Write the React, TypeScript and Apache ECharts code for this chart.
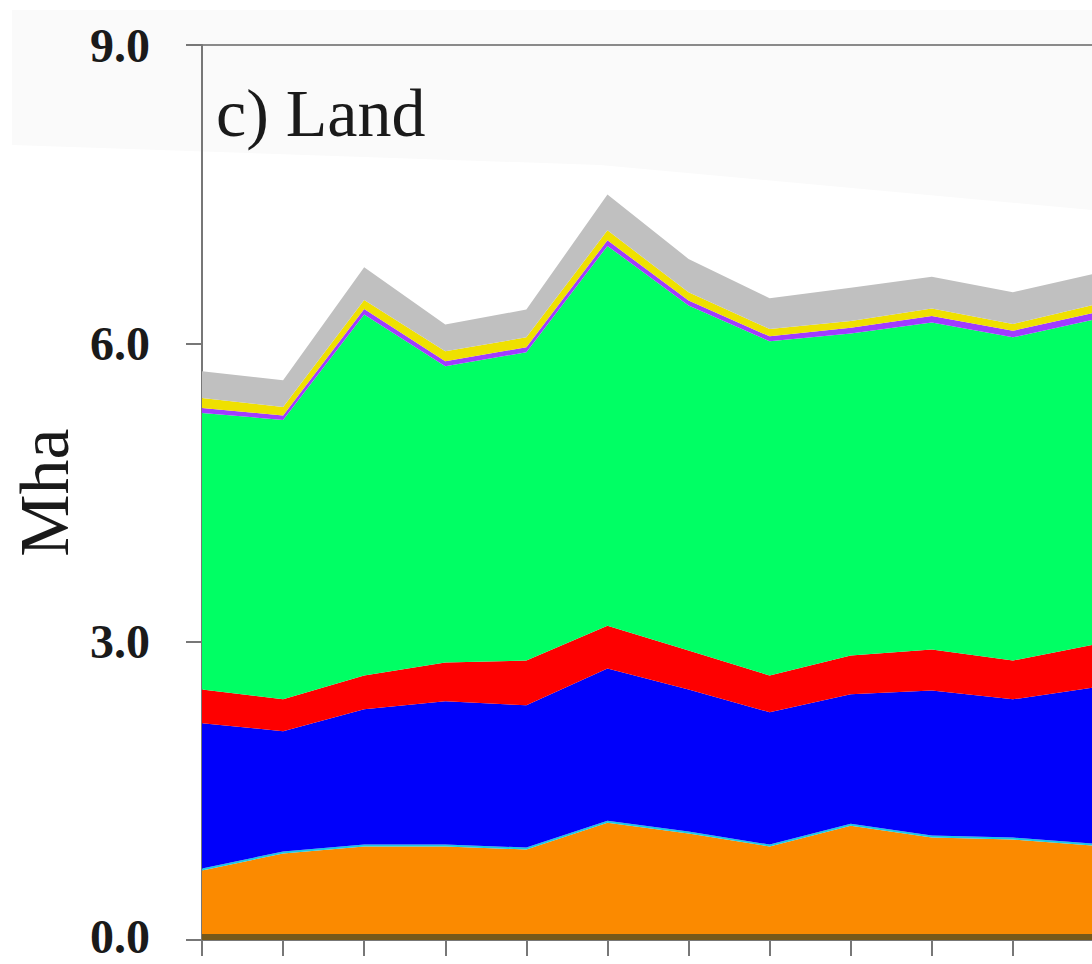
import React, { useEffect, useRef } from "react";
import * as echarts from "echarts";

// 12 time steps along the x axis (labels are cut off in the reference)
const categories = ["1", "2", "3", "4", "5", "6", "7", "8", "9", "10", "11", "12"];

// stacked layers, bottom to top (Mha)
const brownLayer = [0.06, 0.06, 0.06, 0.06, 0.06, 0.06, 0.06, 0.06, 0.06, 0.06, 0.06, 0.06];
const orangeLayer = [0.64, 0.81, 0.88, 0.88, 0.85, 1.12, 1.01, 0.88, 1.09, 0.97, 0.95, 0.89];
const cyanLayer = [0.02, 0.02, 0.02, 0.02, 0.02, 0.02, 0.02, 0.02, 0.02, 0.02, 0.02, 0.02];
const blueLayer = [1.46, 1.21, 1.36, 1.44, 1.43, 1.53, 1.43, 1.33, 1.3, 1.46, 1.39, 1.57];
const redLayer = [0.34, 0.32, 0.34, 0.39, 0.45, 0.43, 0.39, 0.37, 0.39, 0.41, 0.39, 0.43];
const greenLayer = [2.78, 2.81, 3.63, 2.98, 3.1, 3.82, 3.47, 3.36, 3.24, 3.29, 3.25, 3.27];
const purpleLayer = [0.05, 0.045, 0.055, 0.05, 0.05, 0.056, 0.05, 0.05, 0.057, 0.066, 0.066, 0.067];
const yellowLayer = [0.1, 0.085, 0.09, 0.1, 0.1, 0.1, 0.084, 0.074, 0.067, 0.074, 0.068, 0.081];
const grayLayer = [0.27, 0.27, 0.33, 0.27, 0.28, 0.36, 0.335, 0.31, 0.335, 0.32, 0.32, 0.31];

const layers = [
  { name: "Brown", data: brownLayer, color: "#76591a" },
  { name: "Orange", data: orangeLayer, color: "#fb8a00" },
  { name: "Cyan", data: cyanLayer, color: "#19c8e6" },
  { name: "Blue", data: blueLayer, color: "#0000fb" },
  { name: "Red", data: redLayer, color: "#fe0000" },
  { name: "Green", data: greenLayer, color: "#00ff64" },
  { name: "Purple", data: purpleLayer, color: "#a03cff" },
  { name: "Yellow", data: yellowLayer, color: "#efe000" },
  { name: "Gray", data: grayLayer, color: "#c0c0c0" },
];

const yMin = 0;
const yMax = 9;
const yInterval = 3;

export default function App() {
  const ref = useRef<HTMLDivElement>(null);

  useEffect(() => {
    if (!ref.current) return;
    const chart = echarts.init(ref.current, undefined, { renderer: "svg" });
    const serif = "'Liberation Serif', 'Times New Roman', serif";
    const labelStyle = {
      fontFamily: serif,
      fontSize: 48,
      fontWeight: "bold",
      color: "#1a1a1a",
    };
    chart.setOption({
      animation: false,
      backgroundColor: "transparent",
      title: {
        text: "c) Land",
        left: 211,
        top: 74,
        textStyle: {
          fontFamily: serif,
          fontSize: 68,
          fontWeight: "normal",
          color: "#1a1a1a",
        },
      },
      graphic: [
        {
          type: "polygon",
          z: -10,
          silent: true,
          shape: {
            points: [
              [12, 10],
              [1300, 10],
              [1300, 225],
              [1092, 210],
              [600, 165],
              [12, 145],
            ],
          },
          style: { fill: "#fafafa" },
        },
      ],
      grid: {
        left: 202,
        top: 45,
        width: 892,
        height: 895,
        show: true,
        borderColor: "#8a8a8a",
        borderWidth: 2,
        backgroundColor: "transparent",
      },
      xAxis: {
        type: "category",
        data: categories,
        boundaryGap: false,
        axisLine: { show: true, lineStyle: { color: "#777", width: 2 } },
        axisTick: { show: true, length: 16, lineStyle: { color: "#777", width: 2 } },
        axisLabel: { show: false },
        splitLine: { show: false },
      },
      yAxis: {
        type: "value",
        min: yMin,
        max: yMax,
        interval: yInterval,
        name: "Mha",
        nameLocation: "middle",
        nameGap: 115,
        nameRotate: 90,
        nameTextStyle: {
          fontFamily: serif,
          fontSize: 70,
          color: "#1a1a1a",
        },
        axisLine: { show: true, lineStyle: { color: "#777", width: 2 } },
        axisTick: { show: true, length: 16, lineStyle: { color: "#777", width: 2 } },
        axisLabel: {
          margin: 52,
          ...labelStyle,
          formatter: (v: number) => (v === 0 ? "{z|" + v.toFixed(1) + "}" : "{n|" + v.toFixed(1) + "}"),
          rich: {
            n: { ...labelStyle },
            z: { ...labelStyle, padding: [0, 0, 8, 0] },
          },
        },
        splitLine: { show: false },
      },
      series: layers.map((l) => ({
        name: l.name,
        type: "line",
        stack: "total",
        data: l.data,
        showSymbol: false,
        symbol: "none",
        lineStyle: { width: 0 },
        areaStyle: { color: l.color, opacity: 1 },
        itemStyle: { color: l.color },
        emphasis: { disabled: true },
      })),
    });
    return () => chart.dispose();
  }, []);

  return (
    <div
      style={{
        position: "fixed",
        left: 0,
        top: 0,
        width: 1092,
        height: 964,
        overflow: "hidden",
        background: "#ffffff",
      }}
    >
      <div ref={ref} style={{ width: 1300, height: 964 }} />
    </div>
  );
}
